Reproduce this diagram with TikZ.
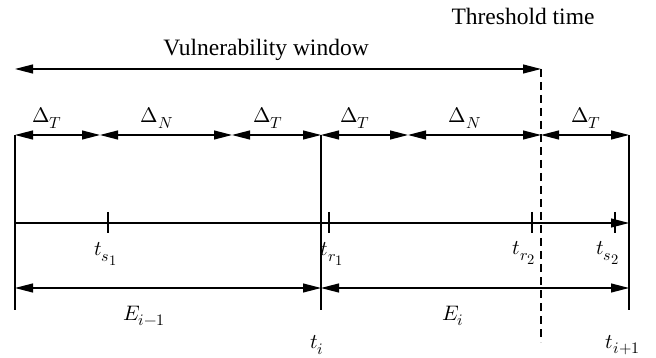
\documentclass[tikz,border=0pt]{standalone}
\usepackage{fontspec}
\usepackage{unicode-math}
\setmainfont{Liberation Serif}
\setmathfont{Latin Modern Math}
\DeclareMathSizes{21}{21}{16}{14.5}
\usetikzlibrary{arrows.meta}
\begin{document}
\begin{tikzpicture}[x=1pt,y=-1pt, line width=1.1pt,
  dim/.style={{Triangle[length=18pt,width=9pt]}-{Triangle[length=18pt,width=9pt]}},
  fwd/.style={-{Triangle[length=18pt,width=9pt]}},
  lab/.style={font=\fontsize{23.5}{27}\selectfont, inner sep=0pt},
  mlab/.style={font=\fontsize{21}{25}\selectfont, inner sep=0pt},
  tick/.style={line width=1.1pt},
  thresh/.style={dash pattern=on 8pt off 5pt, line width=1.1pt}]
\useasboundingbox (0,0) rectangle (656,358);
% coordinates
\coordinate (v0) at (15,69);
\coordinate (v1) at (541,69);
\coordinate (a0) at (15,135);
\coordinate (a1) at (100,135);
\coordinate (a2) at (232,135);
\coordinate (a3) at (321,135);
\coordinate (a4) at (408,135);
\coordinate (a5) at (541,135);
\coordinate (a6) at (629,135);
\coordinate (b0) at (15,310);
\coordinate (b3) at (321,310);
\coordinate (b6) at (629,310);
\coordinate (d1) at (541,342);
\coordinate (l0) at (15,223);
\coordinate (l1) at (629,223);
\coordinate (e0) at (15,288);
\coordinate (e1) at (321,288);
\coordinate (e2) at (629,288);
% texts
\node[lab] (thr) at (523,16) {Threshold time};
\node[lab] (vw) at (266,50) {Vulnerability window};
\node[mlab] (dt1) at (47,118) {$\Delta_T$};
\node[mlab] (dn1) at (157,118) {$\Delta_N$};
\node[mlab] (dt2) at (268,118) {$\Delta_T$};
\node[mlab] (dt3) at (355,118) {$\Delta_T$};
\node[mlab] (dn2) at (465,118) {$\Delta_N$};
\node[mlab] (dt4) at (586,118) {$\Delta_T$};
\node[mlab] (ts1) at (106,254) {$t_{s_1}$};
\node[mlab] (tr1) at (332,254) {$t_{r_1}$};
\node[mlab] (tr2) at (524,253) {$t_{r_2}$};
\node[mlab] (ts2) at (608,253) {$t_{s_2}$};
\node[mlab] (E1) at (144,316) {$E_{i-1}$};
\node[mlab] (E2) at (453,316) {$E_i$};
\node[mlab] (ti) at (317,345) {$t_i$};
\node[mlab] (ti1) at (623,345) {$t_{i+1}$};
% vulnerability window
\draw[dim] (v0) -- (v1);
\draw[thresh] (v1) -- (d1);
% delta row
\draw[dim] (a0) -- (a1);
\draw[dim] (a1) -- (a2);
\draw[dim] (a2) -- (a3);
\draw[dim] (a3) -- (a4);
\draw[dim] (a4) -- (a5);
\draw[dim] (a5) -- (a6);
% vertical borders
\draw (a0) -- (b0);
\draw (a3) -- (b3);
\draw (a6) -- (b6);
% timeline
\draw[fwd] (l0) -- (l1);
\draw[tick] (108,212) -- (108,233);
\draw[tick] (329,212) -- (329,233);
\draw[tick] (532,212) -- (532,233);
\draw[tick] (615,212) -- (615,233);
% epochs
\draw[dim] (e0) -- (e1);
\draw[dim] (e1) -- (e2);
\end{tikzpicture}
\end{document}
